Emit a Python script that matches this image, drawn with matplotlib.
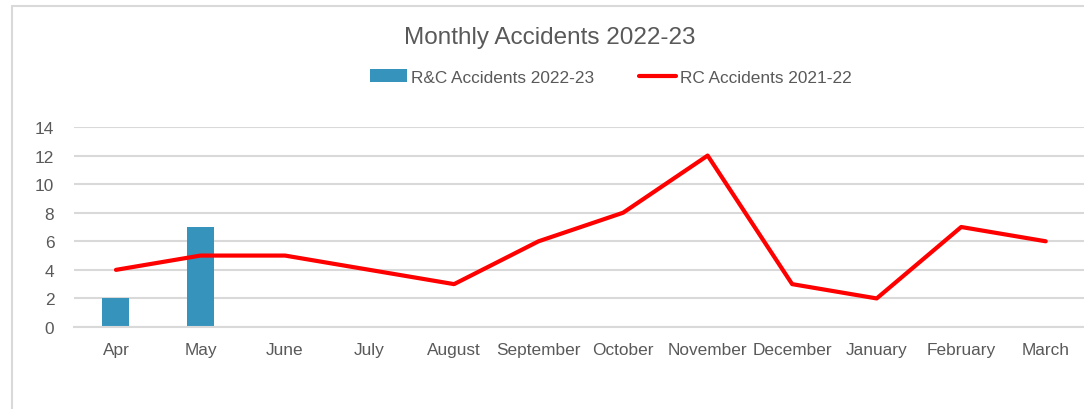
import matplotlib
matplotlib.use("Agg")
import matplotlib.pyplot as plt
from matplotlib.patches import Rectangle
import numpy as np

months = ["Apr", "May", "June", "July", "August", "September", "October",
          "November", "December", "January", "February", "March"]
rc_2022_23 = [2, 7, None, None, None, None, None, None, None, None, None, None]
rc_2021_22 = [4, 5, 5, 4, 3, 6, 8, 12, 3, 2, 7, 6]

plt.rcParams['font.family'] = ['Liberation Sans', 'DejaVu Sans']
text_col = '#595959'
grid_col = '#D9D9D9'

fig = plt.figure(figsize=(10.84, 4.10), dpi=100)
# chart border (only left and top visible in the frame)
fig.add_artist(Rectangle((12 / 1084, -0.1), 1.2, (410 - 7) / 410 + 0.1,
                         transform=fig.transFigure, fill=False,
                         edgecolor=grid_col, linewidth=1.5))

ax = fig.add_axes([73.7 / 1084, 82 / 410, (1088 - 73.7) / 1084, 200 / 410])
x = np.arange(len(months))
bar_vals = [v if v is not None else 0 for v in rc_2022_23]
bar_mask = [v is not None for v in rc_2022_23]
bars = ax.bar(x[bar_mask], np.array(bar_vals)[bar_mask], width=0.32,
              color='#3694BC', label='R&C Accidents 2022-23', zorder=2)
line, = ax.plot(x, rc_2021_22, color='#FF0000', linewidth=3,
                solid_capstyle='round', label='RC Accidents 2021-22', zorder=3)

ax.set_xlim(-0.5, len(months) - 0.5)
ax.set_ylim(0, 14)
ax.set_yticks(range(0, 15, 2))
ax.set_xticks(x)
ax.set_xticklabels(months)
ax.grid(axis='y', color=grid_col, linewidth=1.5, zorder=0)
ax.set_axisbelow(True)
for s in ['top', 'right', 'left']:
    ax.spines[s].set_visible(False)
ax.spines['bottom'].set_color(grid_col)
ax.spines['bottom'].set_linewidth(1.5)
ax.tick_params(axis='both', length=0, colors=text_col, labelsize=12.4)
ax.tick_params(axis='y', pad=14)
ax.tick_params(axis='x', pad=11)

fig.text(550 / 1084, 1 - 38 / 410, "Monthly Accidents 2022-23", ha='center',
         va='center', fontsize=17.5, color=text_col)
ax.legend(handles=[bars, line], loc='center',
          bbox_to_anchor=(611 / 1084, 1 - 78 / 410),
          bbox_transform=fig.transFigure, ncol=2, frameon=False,
          fontsize=12.4, labelcolor=text_col, columnspacing=2.6,
          handlelength=2.15, handletextpad=0.25)

fig.savefig("out.png", dpi=100)
